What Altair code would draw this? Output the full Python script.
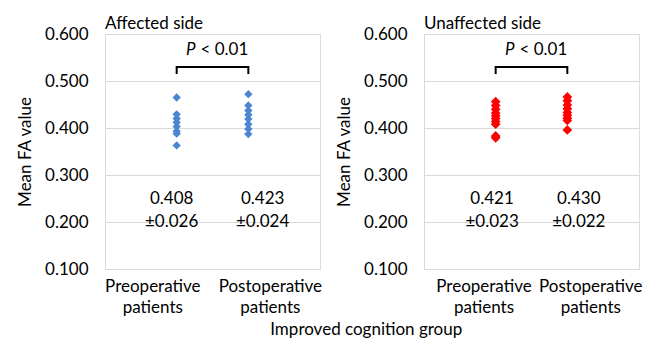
import altair as alt
import pandas as pd

# ---- data ----
aff_pre = [0.465, 0.429, 0.420, 0.412, 0.403, 0.393, 0.388, 0.363]
aff_post = [0.472, 0.448, 0.437, 0.428, 0.419, 0.408, 0.398, 0.387]
unaff_pre = [0.456, 0.448, 0.440, 0.432, 0.426, 0.420, 0.414, 0.408, 0.383, 0.379]
unaff_post = [0.466, 0.458, 0.449, 0.441, 0.433, 0.427, 0.421, 0.416, 0.396]

group_x = [1, 2]
aff_stats = ["0.408\n\u00b10.026", "0.423\n\u00b10.024"]
unaff_stats = ["0.421\n\u00b10.023", "0.430\n\u00b10.022"]
aff_stat_x = [0.93, 2.2]
unaff_stat_x = [0.95, 2.16]
aff_label_x = [0.66, 2.3]
unaff_label_x = [0.83, 2.32]
stat_y = 0.25
bracket_low, bracket_high = 0.515, 0.530
p_y = 0.566
y_ticks = [0.1, 0.2, 0.3, 0.4, 0.5, 0.6]

FONT = "Lato"
FS = 17
GRID = "#d9d9d9"


def panel(title, pre, post, color, size, stats, stat_x, label_x):
    pts = pd.DataFrame(
        {"x": [group_x[0]] * len(pre) + [group_x[1]] * len(post), "y": pre + post}
    )
    lbl = "datum.value < 1.5 ? ['Preoperative','patients'] : ['Postoperative','patients']"
    xenc = alt.X(
        "x:Q",
        scale=alt.Scale(domain=[0, 3], nice=False, zero=False),
        axis=alt.Axis(
            values=label_x, labelExpr=lbl, grid=False, domain=False, ticks=False,
            tickSize=0, labelPadding=9, labelFontSize=FS, labelLineHeight=21,
            labelColor="black", labelFont=FONT, labelOverlap=False, labelFlush=False,
            labelBound=False, title=None,
        ),
    )
    yenc = alt.Y(
        "y:Q",
        scale=alt.Scale(domain=[0.1, 0.6], nice=False, zero=False),
        axis=alt.Axis(
            values=y_ticks, format=".3f", grid=True, gridColor=GRID, domain=True,
            domainColor=GRID, ticks=False, tickSize=0, labelPadding=17,
            labelFontSize=FS, labelColor="black", labelFont=FONT,
            title="Mean FA value", titleFontSize=FS, titleFontWeight="normal",
            titleFont=FONT, titleColor="black", titlePadding=10,
        ),
    )
    points = alt.Chart(pts).mark_point(
        shape="diamond", filled=True, size=size, opacity=1, color=color
    ).encode(x=xenc, y=yenc)

    st = pd.DataFrame({"x": stat_x, "y": [stat_y, stat_y], "t": stats})
    stat_txt = alt.Chart(st).mark_text(
        fontSize=FS, font=FONT, lineBreak="\n", lineHeight=23, baseline="middle",
        align="center", color="black",
    ).encode(x="x:Q", y="y:Q", text="t:N")

    br = pd.DataFrame(
        {
            "x": [group_x[0], group_x[0], group_x[1], group_x[1]],
            "y": [bracket_low, bracket_high, bracket_high, bracket_low],
            "o": [0, 1, 2, 3],
        }
    )
    bracket = alt.Chart(br).mark_line(color="black", strokeWidth=2).encode(
        x="x:Q", y="y:Q", order="o:Q"
    )
    pdf = pd.DataFrame({"x": [sum(group_x) / 2], "y": [p_y]})
    p_it = alt.Chart(pdf).mark_text(
        text="P", fontStyle="italic", fontSize=FS, font=FONT, align="right",
        baseline="middle", dx=-17, color="black",
    ).encode(x="x:Q", y="y:Q")
    p_rest = alt.Chart(pdf).mark_text(
        text="< 0.01", fontSize=FS, font=FONT, align="left", baseline="middle",
        dx=-12, color="black",
    ).encode(x="x:Q", y="y:Q")

    return alt.layer(points, stat_txt, bracket, p_it, p_rest).properties(
        width=215,
        height=235,
        title=alt.TitleParams(
            title, anchor="start", fontSize=FS, fontWeight="normal", font=FONT,
            color="black", offset=-8, frame="group",
        ),
    )


left = panel("Affected side", aff_pre, aff_post, "#4a86d0", 70, aff_stats, aff_stat_x, aff_label_x)
right = panel("Unaffected side", unaff_pre, unaff_post, "#ff0000", 95, unaff_stats, unaff_stat_x, unaff_label_x)

chart = (
    alt.hconcat(left, right, spacing=13)
    .properties(
        title=alt.TitleParams(
            "Improved cognition group", orient="bottom", anchor="middle",
            fontSize=FS, fontWeight="normal", font=FONT, color="black", dx=37, offset=6,
        ),
        padding={"left": 8, "top": 6, "right": 0, "bottom": 0},
    )
    .configure_view(stroke=None)
    .configure(background="white")
)

chart.save("out.html", embed_options={"renderer": "svg", "actions": False})
